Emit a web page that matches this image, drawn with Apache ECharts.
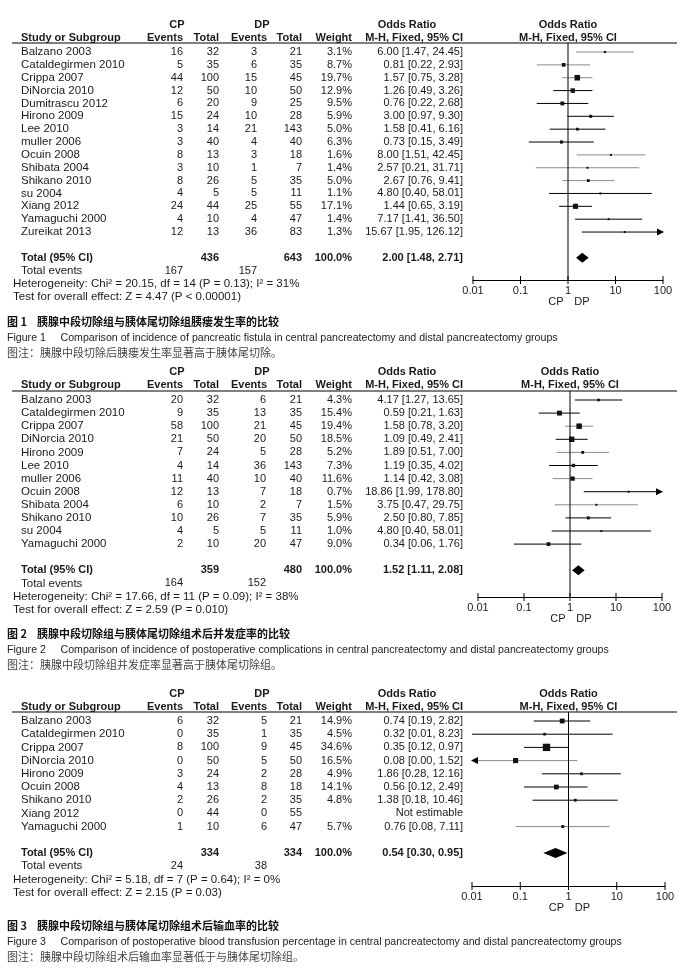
<!DOCTYPE html>
<html><head><meta charset="utf-8">
<script src="https://cdn.jsdelivr.net/npm/echarts@6/dist/echarts.min.js"></script>
<style>html,body{margin:0;padding:0;background:#fff}#c{width:688px;height:974px}</style>
</head><body><div id="c"></div>
<script>
// ---------------- DATA ----------------
const axisTickValues = [0.01, 0.1, 1, 10, 100];

// Figure 1 : pancreatic fistula
const p1Studies = ["Balzano 2003","Cataldegirmen 2010","Crippa 2007","DiNorcia 2010","Dumitrascu 2012","Hirono 2009","Lee 2010","muller 2006","Ocuin 2008","Shibata 2004","Shikano 2010","su 2004","Xiang 2012","Yamaguchi 2000","Zureikat 2013"];
const p1CpEvents = [16,5,44,12,6,15,3,3,8,3,8,4,24,4,12];
const p1CpTotal  = [32,35,100,50,20,24,14,40,13,10,26,5,44,10,13];
const p1DpEvents = [3,6,15,10,9,10,21,4,3,1,5,5,25,4,36];
const p1DpTotal  = [21,35,45,50,25,28,143,40,18,7,35,11,55,47,83];
const p1Weight   = [3.1,8.7,19.7,12.9,9.5,5.9,5.0,6.3,1.6,1.4,5.0,1.1,17.1,1.4,1.3];
const p1OR       = [6.00,0.81,1.57,1.26,0.76,3.00,1.58,0.73,8.00,2.57,2.67,4.80,1.44,7.17,15.67];
const p1Lower    = [1.47,0.22,0.75,0.49,0.22,0.97,0.41,0.15,1.51,0.21,0.76,0.40,0.65,1.41,1.95];
const p1Upper    = [24.45,2.93,3.28,3.26,2.68,9.30,6.16,3.49,42.45,31.71,9.41,58.01,3.19,36.50,126.12];
const p1Totals   = [436, 643];
const p1TotalEvents = [167, 157];
const p1Pooled   = [2.00, 1.48, 2.71];
const p1Heterogeneity = "Heterogeneity: Chi² = 20.15, df = 14 (P = 0.13); I² = 31%";
const p1Overall  = "Test for overall effect: Z = 4.47 (P < 0.00001)";
const p1Captions = ["图 1    胰腺中段切除组与胰体尾切除组胰瘘发生率的比较",
  "Figure 1     Comparison of incidence of pancreatic fistula in central pancreatectomy and distal pancreatectomy groups",
  "图注：胰腺中段切除后胰瘘发生率显著高于胰体尾切除。"];

// Figure 2 : postoperative complications
const p2Studies = ["Balzano 2003","Cataldegirmen 2010","Crippa 2007","DiNorcia 2010","Hirono 2009","Lee 2010","muller 2006","Ocuin 2008","Shibata 2004","Shikano 2010","su 2004","Yamaguchi 2000"];
const p2CpEvents = [20,9,58,21,7,4,11,12,6,10,4,2];
const p2CpTotal  = [32,35,100,50,24,14,40,13,10,26,5,10];
const p2DpEvents = [6,13,21,20,5,36,10,7,2,7,5,20];
const p2DpTotal  = [21,35,45,50,28,143,40,18,7,35,11,47];
const p2Weight   = [4.3,15.4,19.4,18.5,5.2,7.3,11.6,0.7,1.5,5.9,1.0,9.0];
const p2OR       = [4.17,0.59,1.58,1.09,1.89,1.19,1.14,18.86,3.75,2.50,4.80,0.34];
const p2Lower    = [1.27,0.21,0.78,0.49,0.51,0.35,0.42,1.99,0.47,0.80,0.40,0.06];
const p2Upper    = [13.65,1.63,3.20,2.41,7.00,4.02,3.08,178.80,29.75,7.85,58.01,1.76];
const p2Totals   = [359, 480];
const p2TotalEvents = [164, 152];
const p2Pooled   = [1.52, 1.11, 2.08];
const p2Heterogeneity = "Heterogeneity: Chi² = 17.66, df = 11 (P = 0.09); I² = 38%";
const p2Overall  = "Test for overall effect: Z = 2.59 (P = 0.010)";
const p2Captions = ["图 2    胰腺中段切除组与胰体尾切除组术后并发症率的比较",
  "Figure 2     Comparison of incidence of postoperative complications in central pancreatectomy and distal pancreatectomy groups",
  "图注：胰腺中段切除组并发症率显著高于胰体尾切除组。"];

// Figure 3 : blood transfusion
const p3Studies = ["Balzano 2003","Cataldegirmen 2010","Crippa 2007","DiNorcia 2010","Hirono 2009","Ocuin 2008","Shikano 2010","Xiang 2012","Yamaguchi 2000"];
const p3CpEvents = [6,0,8,0,3,4,2,0,1];
const p3CpTotal  = [32,35,100,50,24,13,26,44,10];
const p3DpEvents = [5,1,9,5,2,8,2,0,6];
const p3DpTotal  = [21,35,45,50,28,18,35,55,47];
const p3Weight   = [14.9,4.5,34.6,16.5,4.9,14.1,4.8,null,5.7];
const p3OR       = [0.74,0.32,0.35,0.08,1.86,0.56,1.38,null,0.76];
const p3Lower    = [0.19,0.01,0.12,0.00,0.28,0.12,0.18,null,0.08];
const p3Upper    = [2.82,8.23,0.97,1.52,12.16,2.49,10.46,null,7.11];
const p3Totals   = [334, 334];
const p3TotalEvents = [24, 38];
const p3Pooled   = [0.54, 0.30, 0.95];
const p3Heterogeneity = "Heterogeneity: Chi² = 5.18, df = 7 (P = 0.64); I² = 0%";
const p3Overall  = "Test for overall effect: Z = 2.15 (P = 0.03)";
const p3Captions = ["图 3    胰腺中段切除组与胰体尾切除组术后输血率的比较",
  "Figure 3     Comparison of postoperative blood transfusion percentage in central pancreatectomy and distal pancreatectomy groups",
  "图注：胰腺中段切除组术后输血率显著低于与胰体尾切除组。"];

// ---------------- STYLE / LAYOUT ----------------
const p1Ink = [0,0,0,1,1,1,1,1,0,0,0,1,1,1,1];
const p2Ink = [1,1,0,1,0,1,0,1,0,1,1,1];
const p3Ink = [1,1,1,0,1,1,1,1,0];

const panels = [
  {studies:p1Studies, cpE:p1CpEvents, cpT:p1CpTotal, dpE:p1DpEvents, dpT:p1DpTotal, w:p1Weight, or:p1OR, lo:p1Lower, hi:p1Upper,
   totals:p1Totals, tev:p1TotalEvents, pooled:p1Pooled, het:p1Heterogeneity, test:p1Overall, caps:p1Captions, ink:p1Ink,
   L:{head:25, col:38, line:43, row0:52, step:12.86, axisY:280, cap:322, axL:473, axR:663, dpEvR:257}},
  {studies:p2Studies, cpE:p2CpEvents, cpT:p2CpTotal, dpE:p2DpEvents, dpT:p2DpTotal, w:p2Weight, or:p2OR, lo:p2Lower, hi:p2Upper,
   totals:p2Totals, tev:p2TotalEvents, pooled:p2Pooled, het:p2Heterogeneity, test:p2Overall, caps:p2Captions, ink:p2Ink,
   L:{head:372, col:385, line:391, row0:400, step:13.1, axisY:597, cap:634, axL:478, axR:662, dpEvR:266}},
  {studies:p3Studies, cpE:p3CpEvents, cpT:p3CpTotal, dpE:p3DpEvents, dpT:p3DpTotal, w:p3Weight, or:p3OR, lo:p3Lower, hi:p3Upper,
   totals:p3Totals, tev:p3TotalEvents, pooled:p3Pooled, het:p3Heterogeneity, test:p3Overall, caps:p3Captions, ink:p3Ink,
   L:{head:694, col:707, line:712, row0:721, step:13.2, axisY:886, cap:926, axL:472, axR:665, dpEvR:267}}
];

const FONT = '"Liberation Sans", Arial, Helvetica, sans-serif';
const CJK = '"Noto Sans CJK SC", "Noto Sans CJK JP", sans-serif';
const TXT = '#1a1a1a';

const chart = echarts.init(document.getElementById('c'), null, {renderer:'canvas', width:688, height:974});

const grids = [], xAxes = [], yAxes = [], series = [];
panels.forEach((p, k) => {
  const L = p.L, n = p.studies.length;
  const yMin = (L.line - L.row0) / L.step, yMax = (L.axisY - L.row0) / L.step;
  p.yMin = yMin; p.yMax = yMax; p.n = n;
  grids.push({left:L.axL, width:L.axR - L.axL, top:L.line, height:L.axisY - L.line, containLabel:false});
  xAxes.push({gridIndex:k, type:'log', logBase:10, min:0.01, max:100, position:'bottom',
    axisLine:{show:true, onZero:false, lineStyle:{color:'#000', width:1}},
    axisTick:{show:false},
    splitLine:{show:false},
    axisLabel:{show:true, margin:5, color:TXT, fontSize:11, fontFamily:FONT,
      formatter:v => { const r = axisTickValues.find(t => Math.abs(Math.log10(t) - Math.log10(v)) < 1e-6); return r != null ? String(r) : ''; }}});
  yAxes.push({gridIndex:k, type:'value', min:yMin, max:yMax, inverse:true, show:false});

  // reference line at OR = 1
  series.push({type:'line', xAxisIndex:k, yAxisIndex:k, data:[[1, yMin],[1, yMax]], symbol:'none', silent:true,
    lineStyle:{color:'#000', width:1}, animation:false});

  // tick marks crossing the axis line
  series.push({type:'custom', xAxisIndex:k, yAxisIndex:k, clip:false, silent:true, animation:false,
    data:axisTickValues.map(v => [v, yMax]),
    renderItem:(params, api) => {
      const c = api.coord([api.value(0), api.value(1)]);
      return {type:'line', shape:{x1:c[0], y1:c[1]-4, x2:c[0], y2:c[1]+4}, style:{stroke:'#000', lineWidth:1}};
    }});

  // study rows
  const rows = p.studies.map((s, i) => [i, p.or[i] == null ? NaN : p.or[i], p.lo[i] == null ? NaN : p.lo[i], p.hi[i] == null ? NaN : p.hi[i], p.w[i] == null ? 0 : p.w[i], p.ink[i]]);
  series.push({type:'custom', xAxisIndex:k, yAxisIndex:k, clip:false, silent:true, animation:false, data:rows,
    renderItem:(params, api) => {
      const i = api.value(0), or = api.value(1), lo = api.value(2), hi = api.value(3), w = api.value(4), ink = api.value(5);
      if (isNaN(or)) return null;
      const loC = Math.max(lo, 0.01), hiC = Math.min(hi, 100);
      const a = api.coord([loC, i]), b = api.coord([hiC, i]), c = api.coord([or, i]);
      const col = ink ? '#000' : '#8a8a8a';
      const ch = [{type:'line', shape:{x1:a[0], y1:a[1], x2:b[0], y2:b[1]}, style:{stroke:col, lineWidth:1}}];
      if (hi > 100) ch.push({type:'polygon', shape:{points:[[b[0]+1, b[1]],[b[0]-6, b[1]-3.5],[b[0]-6, b[1]+3.5]]}, style:{fill:'#000'}});
      if (lo < 0.01) ch.push({type:'polygon', shape:{points:[[a[0]-1, a[1]],[a[0]+6, a[1]-3.5],[a[0]+6, a[1]+3.5]]}, style:{fill:'#000'}});
      const sz = Math.max(2, 1.25 * Math.sqrt(w));
      ch.push({type:'rect', shape:{x:c[0]-sz/2, y:c[1]-sz/2, width:sz, height:sz}, style:{fill:'#111'}});
      return {type:'group', children:ch};
    }});

  // pooled diamond
  series.push({type:'custom', xAxisIndex:k, yAxisIndex:k, clip:false, silent:true, animation:false,
    data:[[n + 1, p.pooled[0], p.pooled[1], p.pooled[2]]],
    renderItem:(params, api) => {
      const y = api.value(0);
      const a = api.coord([api.value(2), y]), c = api.coord([api.value(1), y]), b = api.coord([api.value(3), y]);
      const h = 5;
      return {type:'polygon', shape:{points:[[a[0], a[1]],[c[0], c[1]-h],[b[0], b[1]],[c[0], c[1]+h]]}, style:{fill:'#000'}};
    }});
});

chart.setOption({backgroundColor:'#fff', animation:false, grid:grids, xAxis:xAxes, yAxis:yAxes, series:series});

// ---------------- TEXT TABLE ----------------
const g = [];
function T(x, y, text, o) {
  o = o || {};
  const size = o.size || 11.5, fam = o.fam || FONT, wt = o.bold ? 'bold ' : '';
  g.push({type:'text', x:x, y:y, silent:true, z:10,
    style:{text:text, fill:o.color || TXT, font: wt + size + 'px ' + fam,
      textAlign:o.align || 'left', align:o.align || 'left', textVerticalAlign:'middle', verticalAlign:'middle'}});
}
function H(x1, x2, y) {
  g.push({type:'line', silent:true, shape:{x1:x1, y1:y, x2:x2, y2:y}, style:{stroke:'#000', lineWidth:1}});
}
const f2 = v => v.toFixed(2);
panels.forEach((p, k) => {
  const L = p.L, n = p.n;
  const rowY = i => chart.convertToPixel({gridIndex:k}, [1, i])[1];
  const x1 = chart.convertToPixel({gridIndex:k}, [1, 0])[0];
  const C = {name:21, cpE:183, cpT:219, dpE:L.dpEvR, dpT:302, w:352, or:463};
  // headers
  T(177, L.head, 'CP', {bold:true, align:'center', size:11});
  T(262, L.head, 'DP', {bold:true, align:'center', size:11});
  T(407, L.head, 'Odds Ratio', {bold:true, align:'center', size:11});
  T(x1, L.head, 'Odds Ratio', {bold:true, align:'center', size:11});
  T(C.name, L.col, 'Study or Subgroup', {bold:true, size:11});
  T(C.cpE, L.col, 'Events', {bold:true, align:'right', size:11});
  T(C.cpT, L.col, 'Total', {bold:true, align:'right', size:11});
  T(267, L.col, 'Events', {bold:true, align:'right', size:11});
  T(C.dpT, L.col, 'Total', {bold:true, align:'right', size:11});
  T(C.w, L.col, 'Weight', {bold:true, align:'right', size:11});
  T(C.or, L.col, 'M-H, Fixed, 95% CI', {bold:true, align:'right', size:11});
  T(x1, L.col, 'M-H, Fixed, 95% CI', {bold:true, align:'center', size:11});
  H(12, 677, L.line);
  // study rows
  p.studies.forEach((s, i) => {
    const y = rowY(i);
    T(C.name, y, s);
    T(C.cpE, y, String(p.cpE[i]), {align:'right', size:11});
    T(C.cpT, y, String(p.cpT[i]), {align:'right', size:11});
    T(C.dpE, y, String(p.dpE[i]), {align:'right', size:11});
    T(C.dpT, y, String(p.dpT[i]), {align:'right', size:11});
    if (p.w[i] != null) T(C.w, y, p.w[i].toFixed(1) + '%', {align:'right', size:11});
    T(C.or, y, p.or[i] == null ? 'Not estimable' : (f2(p.or[i]) + ' [' + f2(p.lo[i]) + ', ' + f2(p.hi[i]) + ']'), {align:'right', size:11});
  });
  // totals
  const yT = rowY(n + 1);
  T(C.name, yT, 'Total (95% CI)', {bold:true, size:11});
  T(C.cpT, yT, String(p.totals[0]), {bold:true, align:'right', size:11});
  T(C.dpT, yT, String(p.totals[1]), {bold:true, align:'right', size:11});
  T(C.w, yT, '100.0%', {bold:true, align:'right', size:11});
  T(C.or, yT, f2(p.pooled[0]) + ' [' + f2(p.pooled[1]) + ', ' + f2(p.pooled[2]) + ']', {bold:true, align:'right', size:11});
  const yE = rowY(n + 2);
  T(C.name, yE, 'Total events');
  T(C.cpE, yE, String(p.tev[0]), {align:'right', size:11});
  T(C.dpE, yE, String(p.tev[1]), {align:'right', size:11});
  T(13, rowY(n + 3), p.het);
  T(13, rowY(n + 4), p.test);
  // CP / DP under axis
  T(x1 - 12, L.axisY + 22, 'CP', {align:'center', size:11});
  T(x1 + 14, L.axisY + 22, 'DP', {align:'center', size:11});
  // captions
  T(7, L.cap, p.caps[0], {fam:CJK, size:11, bold:true, color:'#111'});
  T(7, L.cap + 16, p.caps[1], {size:10.6, color:'#222'});
  T(7, L.cap + 31, p.caps[2], {fam:CJK, size:11, color:'#444'});
});
chart.setOption({graphic:{elements:g}});
</script>
</body></html>
